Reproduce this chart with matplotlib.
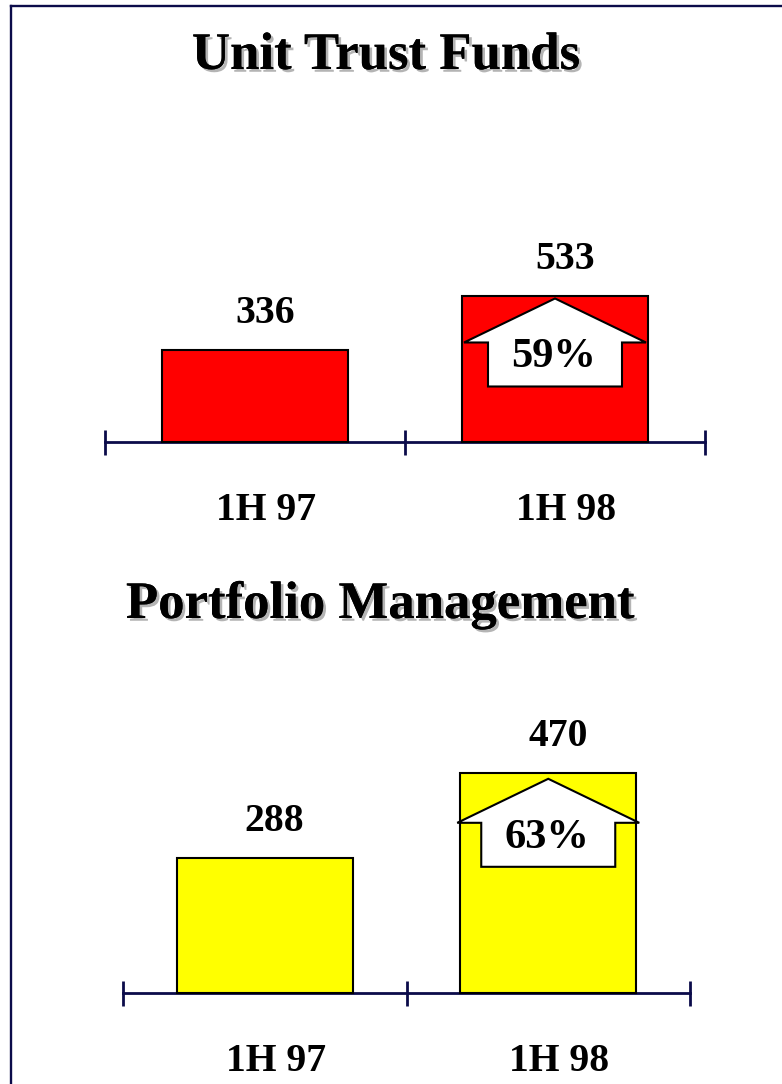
import matplotlib
matplotlib.use("Agg")
import matplotlib.pyplot as plt
import matplotlib.patheffects as pe
from matplotlib.patches import Polygon
from matplotlib.lines import Line2D
from matplotlib import transforms

# ---------------- data ----------------
categories = ["1H 97", "1H 98"]
unit_trust_values = [336, 533]
portfolio_values = [288, 470]
unit_trust_growth = "59%"
portfolio_growth = "63%"
titles = ["Unit Trust Funds", "Portfolio Management"]

# ---------------- style ----------------
W, H = 782, 1084
DPI = 100
NAVY = "#0b0b4a"
FONT = "Liberation Serif"

fig = plt.figure(figsize=(W / DPI, H / DPI), dpi=DPI)
fig.patch.set_facecolor("white")


def px_rect(left, right, base, top):
    return [left / W, 1 - base / H, (right - left) / W, (base - top) / H]


def draw_panel(rect, values, color, ymax, growth, tip_drop):
    ax = fig.add_axes(rect)
    x = list(range(len(values)))
    ax.bar(x, values, width=0.62, color=color, edgecolor="black",
           linewidth=1.5, zorder=3, clip_on=False)
    ax.set_xlim(-0.5, len(values) - 0.5)
    ax.set_ylim(0, ymax)
    for s in ("top", "left", "right"):
        ax.spines[s].set_visible(False)
    ax.spines["bottom"].set_color(NAVY)
    ax.spines["bottom"].set_linewidth(2)
    ax.spines["bottom"].set_zorder(2)
    ax.set_yticks([])
    ax.set_xticks([i - 0.5 for i in range(len(values) + 1)])
    ax.set_xticklabels([])
    ax.tick_params(axis="x", direction="inout", length=18, width=2, color=NAVY)
    ax.patch.set_alpha(0)

    for i, v in enumerate(values):
        ax.annotate(str(v), xy=(i, v), xytext=(7, 19.5), textcoords="offset points",
                    ha="center", va="baseline", fontsize=28.5, fontweight="bold",
                    family=FONT)
        ax.annotate(categories[i], xy=(i, 0), xytext=(8, -56), textcoords="offset points",
                    ha="center", va="baseline", fontsize=28.5, fontweight="bold",
                    family=FONT)

    # growth arrow inside the last bar (shape in pixels relative to bar top)
    last = len(values) - 1
    verts = [(0, -tip_drop), (91, -tip_drop - 44), (67, -tip_drop - 44),
             (67, -tip_drop - 88), (-67, -tip_drop - 88), (-67, -tip_drop - 44),
             (-91, -tip_drop - 44)]
    trans = transforms.Affine2D() + transforms.ScaledTranslation(last, values[last], ax.transData)
    arrow = Polygon(verts, closed=True, facecolor="white", edgecolor="black",
                    linewidth=1.5, transform=trans, zorder=4, clip_on=False)
    ax.add_patch(arrow)
    ax.annotate(growth, xy=(last, values[last]),
                xytext=(-1, -(tip_drop + 59) * 72 / DPI), textcoords="offset points",
                ha="center", va="center", fontsize=30.5, fontweight="bold",
                family=FONT, zorder=5)
    return ax


draw_panel(px_rect(105, 705, 442, 220), unit_trust_values, "#ff0000",
           222 / 0.273, unit_trust_growth, 2)
draw_panel(px_rect(123, 690, 993, 700), portfolio_values, "#ffff00",
           293 / 0.4685, portfolio_growth, 6)

shadow = [pe.withSimplePatchShadow(offset=(2, -2), shadow_rgbFace="#b4b4b4", alpha=1.0),
          pe.Normal()]
fig.text(386 / W, 1 - 69 / H, titles[0], ha="center", va="baseline", fontsize=38,
         fontweight="bold", family=FONT, path_effects=shadow)
fig.text(380 / W, 1 - 618 / H, titles[1], ha="center", va="baseline", fontsize=38,
         fontweight="bold", family=FONT, path_effects=shadow)

# frame lines (left and top)
fig.add_artist(Line2D([11 / W, 11 / W], [0, 1 - 6 / H], color=NAVY, linewidth=1.7))
fig.add_artist(Line2D([11 / W, 1], [1 - 6 / H, 1 - 6 / H], color=NAVY, linewidth=1.7))

fig.savefig("out.png", dpi=DPI)
